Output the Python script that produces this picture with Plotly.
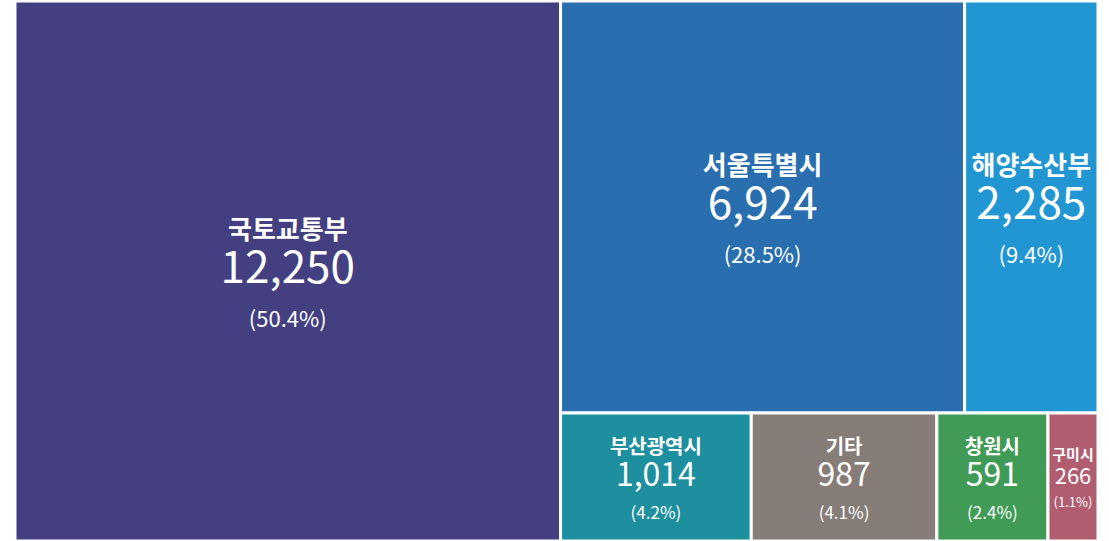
import plotly.graph_objects as go

labels = ["국토교통부", "서울특별시", "해양수산부", "부산광역시", "기타", "창원시", "구미시"]
values = [12250, 6924, 2285, 1014, 987, 591, 266]
colors = ["#433F80", "#296EAF", "#2196D3", "#1E8F9E", "#877D78", "#409B56", "#B05D70"]

# text styling per tile: (base line size, label, value, percent)
styles = {
    "국토교통부": (34, 26, 44, 22),
    "서울특별시": (34, 26, 44, 22),
    "해양수산부": (34, 26, 44, 22),
    "부산광역시": (25, 20, 32, 17),
    "기타": (25, 20, 32, 17),
    "창원시": (25, 20, 32, 17),
    "구미시": (18, 15, 22, 13),
}

templates = []
base_sizes = []
for lab in labels:
    b, l, v, p = styles[lab]
    base_sizes.append(b)
    templates.append(
        f"<span style='font-size:{l}px'><b>%{{label}}</b></span><br>"
        f"<span style='font-size:{v}px'>%{{value:,}}</span><br>"
        f"<span style='font-size:{p}px'>(%{{percentRoot:.1%}})</span>"
    )

fig = go.Figure(go.Treemap(
    labels=labels,
    parents=[""] * len(labels),
    values=values,
    marker=dict(colors=colors, line=dict(color="white", width=3),
                pad=dict(t=0, l=0, r=0, b=0)),
    texttemplate=templates,
    textposition="middle center",
    textfont=dict(family="Noto Sans CJK KR", color="white", size=base_sizes),
    tiling=dict(packing="squarify", squarifyratio=1.618, pad=0),
    pathbar=dict(visible=False),
))

fig.update_layout(
    width=1109, height=541,
    margin=dict(l=15, r=11, t=1, b=0),
)

fig.write_html("out.html", config={"displayModeBar": False},
               post_script="document.body.style.margin='0';")
